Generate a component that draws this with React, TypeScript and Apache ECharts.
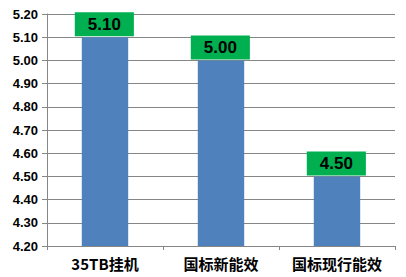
import React, { useEffect, useRef } from "react";
import * as echarts from "echarts";

const categories = ["35TB挂机", "国标新能效", "国标现行能效"];
const values = [5.1, 5.0, 4.5];

export default function App() {
  const ref = useRef<HTMLDivElement>(null);
  useEffect(() => {
    if (!ref.current) return;
    const chart = echarts.init(ref.current, null, { renderer: "svg" });
    chart.setOption({
      animation: false,
      grid: { left: 47, top: 14, right: 11, bottom: 31, containLabel: false },
      xAxis: {
        type: "category",
        data: categories,
        boundaryGap: true,
        axisLine: { show: true, lineStyle: { color: "#868686", width: 1 } },
        axisTick: { show: true, length: 4, lineStyle: { color: "#868686" } },
        axisLabel: {
          interval: 0,
          color: "#000",
          fontSize: 15,
          fontWeight: "bold",
          margin: 10,
          fontFamily: "Noto Sans CJK SC, Liberation Sans, sans-serif",
        },
      },
      yAxis: {
        type: "value",
        min: 4.2,
        max: 5.2,
        interval: 0.1,
        axisLine: { show: true, lineStyle: { color: "#868686", width: 1 } },
        axisTick: { show: true, length: 5, lineStyle: { color: "#868686" } },
        splitLine: { show: true, lineStyle: { color: "#868686", width: 1 } },
        axisLabel: {
          color: "#000",
          fontSize: 13,
          fontWeight: "bold",
          margin: 9,
          fontFamily: "Liberation Sans, Arial, sans-serif",
          formatter: (v: number) => v.toFixed(2),
        },
      },
      series: [
        {
          type: "bar",
          data: values,
          barWidth: "40%",
          itemStyle: { color: "#4F81BD" },
          label: {
            show: true,
            position: [-7, -25],
            color: "#000000",
            fontSize: 17,
            fontWeight: "bold",
            fontFamily: "Liberation Sans, Arial, sans-serif",
            formatter: (p: any) => Number(p.value).toFixed(2),
            backgroundColor: "#00B050",
            padding: [4, 13, 3, 13],
          },
        },
      ],
    });
    return () => chart.dispose();
  }, []);
  return <div ref={ref} style={{ width: 406, height: 277, position: "absolute", left: 0, top: 0, background: "#fff" }} />;
}
